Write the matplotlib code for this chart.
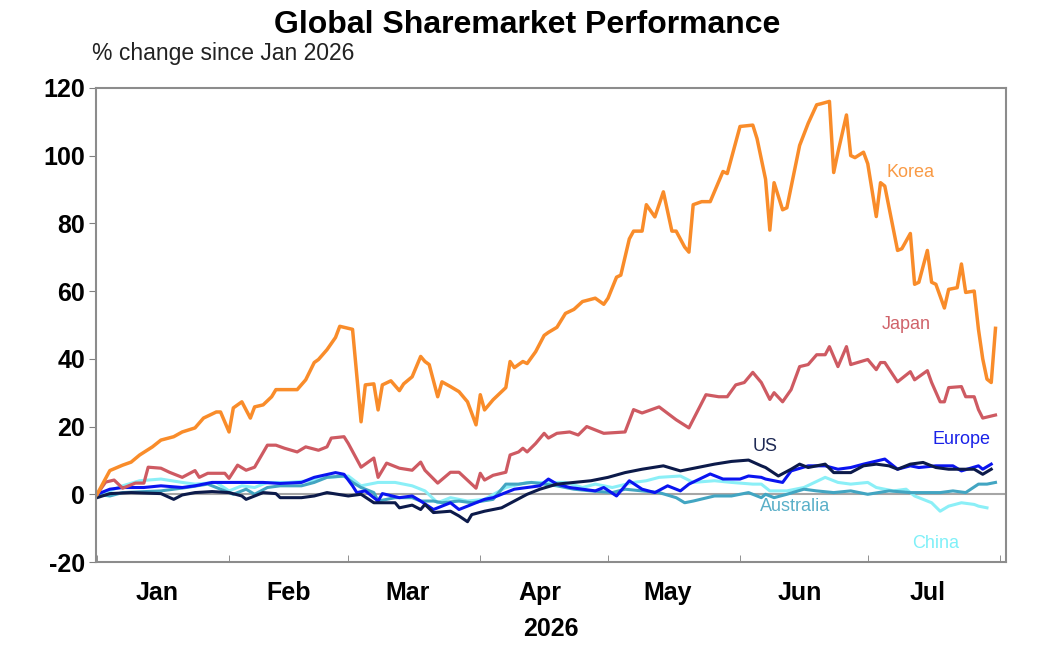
import numpy as np
import matplotlib.pyplot as plt
import matplotlib.dates as mdates

# days since 1 Jan 2026, % change
korea_day = [0, 3, 6, 8, 10, 13, 15, 18, 20, 23, 25, 28, 29, 31, 32, 34, 36, 37, 39, 41,
             42, 47, 49, 51, 52, 54, 56, 57, 60, 62, 63, 65, 66, 67, 69, 71, 72, 74, 76, 77,
             78, 80, 81, 83, 85, 87, 89, 90, 91, 93, 95, 96, 97, 98, 100, 101, 103, 105, 106, 108,
             110, 112, 114, 117, 119, 120, 122, 123, 125, 126, 128, 129, 131, 133, 135, 136, 138, 139, 140, 142,
             144, 147, 148, 151, 154, 155, 157, 158, 159, 161, 162, 165, 167, 169, 170, 172, 173, 174, 176, 177,
             178, 180, 181, 183, 184, 185, 188, 189, 191, 192, 193, 195, 196, 197, 199, 200, 202, 203, 204, 206,
             207, 208, 209, 210, 211]
korea = [0, 7, 8.6, 9.5, 11.6, 14, 16, 17, 18.4, 19.6, 22.5, 24.3, 24.3, 18.4, 25.5, 27.3, 22.5, 25.8, 26.4, 28.8,
         30.9, 30.9, 33.8, 38.9, 39.8, 42.7, 46.3, 49.6, 48.7, 21.4, 32.3, 32.6, 24.9, 32.3, 33.5, 30.6, 32.6, 34.7, 40.7, 39.2,
         38.3, 28.8, 33.2, 31.8, 30.3, 27.3, 20.5, 29.4, 24.9, 27.9, 30.3, 31.5, 39.2, 37.4, 39.2, 38.6, 42.1, 46.9, 47.8, 49.3,
         53.4, 54.6, 56.9, 57.9, 56.1, 57.9, 64.1, 64.7, 75.4, 77.7, 77.7, 85.5, 81.9, 89.3, 77.7, 77.7, 73, 71.5, 85.5, 86.4,
         86.4, 95.3, 94.7, 108.6, 109, 105, 93, 78, 92, 84, 84.6, 103, 109.5, 115, 115.3, 116, 95, 101, 112, 100,
         99.4, 101, 97.6, 82, 92, 91, 72, 72.5, 77, 62, 62.6, 72, 62.6, 62, 55, 60.5, 61, 68, 59.6, 60,
         48.7, 40, 34, 33, 49]

japan_day = [0, 2, 4, 6, 9, 11, 12, 15, 17, 20, 23, 24, 26, 30, 31, 33, 35, 37, 40, 42,
             44, 47, 49, 52, 54, 55, 58, 59, 62, 65, 66, 68, 71, 74, 76, 77, 80, 83, 85, 89,
             90, 91, 93, 96, 97, 99, 100, 101, 103, 105, 106, 108, 111, 113, 115, 117, 119, 124, 126, 128,
             132, 136, 139, 143, 146, 148, 150, 152, 154, 156, 158, 159, 161, 163, 165, 167, 169, 171, 172, 174,
             176, 177, 181, 183, 184, 185, 188, 191, 192, 195, 196, 198, 199, 200, 203, 204, 206, 207, 208, 209, 211]
japan = [0, 3.6, 4.2, 1.8, 3.3, 3.3, 8, 7.7, 6.5, 5, 7, 5, 6.2, 6.2, 4.7, 8.6, 7.1, 8, 14.5, 14.5,
         13.6, 12.5, 14, 13, 14, 16.6, 17, 15, 8, 10.7, 5, 9.2, 7.7, 7.1, 9.5, 7.1, 3.3, 6.5, 6.5, 1.8,
         6.2, 4.2, 5.6, 6.5, 11.6, 12.5, 13.6, 12.5, 15, 18, 16.6, 18, 18.4, 17.5, 20, 19, 18, 18.4, 25, 24,
         25.8, 22, 19.6, 29.4, 28.8, 28.8, 32.3, 33, 36, 33, 28, 30, 27.3, 30.9, 37.7, 38.3, 41.2, 41.2, 43.6, 37.7,
         43.6, 38.3, 39.8, 36.8, 38.9, 38.9, 33.2, 36.2, 33.8, 36.5, 33, 27.3, 27.3, 31.5, 31.8, 28.8, 28.8, 25, 22.5, 22.8, 23.4]

us_day = [0, 3, 8, 15, 18, 20, 23, 27, 31, 34, 35, 39, 42, 43, 48, 51, 54, 59, 62, 65,
          70, 71, 74, 76, 77, 79, 83, 85, 87, 88, 91, 95, 98, 101, 104, 108, 112, 116, 120, 124,
          128, 133, 137, 141, 145, 149, 153, 156, 157, 160, 163, 165, 167, 171, 173, 177, 180, 183, 186, 188,
          191, 194, 197, 200, 206, 208, 210]
us = [-1, 0.2, 0.5, 0.2, -1.5, -0.2, 0.5, 0.8, 0.5, -0.5, -1.5, 0.5, 0.2, -1, -1, -0.5, 0.5, -0.5, 0, -2.5,
      -2.5, -4, -3.2, -4.5, -3, -5.4, -5, -6.4, -8.1, -6, -5, -4, -2, 0, 1.5, 3, 3.5, 4, 5, 6.4,
      7.4, 8.4, 6.9, 7.9, 8.9, 9.7, 10.1, 8.4, 7.9, 5.4, 7.4, 8.9, 7.9, 8.9, 6.4, 6.4, 8.4, 8.9, 8.4, 7.4,
      8.9, 9.4, 7.9, 7.4, 7.4, 5.9, 7.4]

europe_day = [0, 3, 6, 11, 15, 20, 23, 27, 32, 39, 43, 48, 51, 56, 58, 60, 61, 63, 66, 67,
              71, 74, 76, 79, 81, 83, 85, 88, 91, 93, 95, 98, 101, 104, 106, 108, 111, 114, 117, 119,
              122, 125, 128, 131, 134, 137, 139, 144, 147, 151, 153, 156, 157, 161, 163, 167, 171, 174, 177, 180,
              185, 188, 191, 193, 197, 201, 203, 207, 208, 210]
europe = [0, 1.5, 2, 2, 2.5, 2, 2.5, 3.5, 3.5, 3.5, 3.2, 3.5, 5, 6.4, 5.9, 2.5, 0.5, 1, -2, 0.2,
          -1, -0.5, -2, -4.5, -3.5, -2.5, -4.5, -3, -1.5, -1, 0, 1.5, 2, 2.5, 4.5, 3, 2, 1.5, 1, 2,
          -0.5, 4, 1.5, 0.5, 2.5, 1, 3, 6, 4.5, 4.5, 5.4, 5, 4.5, 3.5, 6.9, 8.4, 8.4, 7.4, 7.9, 8.9,
          10.4, 7.4, 8.4, 7.9, 8.4, 8.4, 6.9, 8.4, 7.4, 8.9]

australia_day = [0, 3, 6, 15, 21, 26, 29, 32, 35, 37, 40, 43, 48, 51, 54, 58, 60, 62, 65, 66,
                 70, 74, 76, 79, 81, 85, 88, 93, 96, 99, 102, 108, 112, 116, 121, 124, 128, 132, 136, 138,
                 140, 145, 149, 153, 156, 157, 159, 162, 166, 169, 173, 177, 181, 186, 191, 194, 198, 201, 204, 207,
                 209, 211]
australia = [0, -0.5, 0.5, 1, 2, 3, 1.5, 0, 1.5, 0, 2, 2.5, 2.5, 3.5, 5, 5.4, 3.5, 2, 0.5, -2,
             -1, -1, -2, -2, -2.5, -2, -2.5, -1.5, 3, 3, 3.5, 2.5, 1.5, 1, 0.5, 1.5, 1, 0.5, -1, -2.5,
             -2, -0.5, -0.5, 0.5, -1, 0, -1, 0, 1.5, 1, 0.5, 1, 0, 1, 0.5, 0.5, 0.5, 1, 0.5, 3,
             3, 3.5]

china_day = [0, 3, 6, 10, 15, 20, 23, 28, 31, 34, 37, 40, 45, 50, 54, 59, 62, 66, 70, 74,
             77, 80, 83, 87, 91, 96, 101, 105, 110, 114, 117, 121, 126, 129, 132, 137, 140, 145, 149, 154,
             156, 158, 162, 166, 171, 174, 177, 181, 183, 187, 190, 192, 194, 196, 198, 200, 203, 206, 207, 209]
china = [0, 1, 2.5, 4, 4.5, 3.5, 3, 3.5, 1, 2.5, 2, 3.5, 3.5, 4, 5, 5.4, 2.5, 3.5, 3.5, 2.5,
         1, -2.5, -1, -2, -1.5, 2, 3.5, 3.5, 3.5, 2, 3, 2, 3.5, 4, 5, 5.4, 3.5, 4, 3.5, 3,
         3, 1, 1, 2, 5, 3.5, 3, 3.5, 2, 1, 1.5, -0.5, -1.5, -2.5, -5, -3.5, -2.5, -3, -3.5, -4]

start = np.datetime64('2026-01-01')


def to_dates(days):
    return start + np.array(days).astype('timedelta64[D]')


series = [
    ('China', china_day, china, '#8BEFF7', 2.2),
    ('Australia', australia_day, australia, '#42A5C2', 2.2),
    ('Europe', europe_day, europe, '#0A14F0', 2.2),
    ('US', us_day, us, '#0C1A4A', 2.2),
    ('Japan', japan_day, japan, '#CE5A62', 2.3),
    ('Korea', korea_day, korea, '#F98C2A', 2.5),
]

# label text: day, value, colour
labels = {
    'Korea': (191, 95, '#F99A45'),
    'Japan': (190, 50, '#D0636A'),
    'US': (157, 14, '#1F2A55'),
    'Europe': (203, 16.3, '#1A22E8'),
    'Australia': (164, -3.6, '#5AAFC8'),
    'China': (197, -14.5, '#7FF0F8'),
}

plt.rcParams['font.family'] = ['Liberation Sans', 'DejaVu Sans']
plt.rcParams['axes.unicode_minus'] = False

fig = plt.figure(figsize=(10.62, 6.46), dpi=100)
ax = fig.add_axes([0.0904, 0.130, 0.857, 0.734])

ax.axhline(0, color='#A6A6A6', lw=1.5, zorder=1)
for name, d, v, c, lw in series:
    ax.plot(to_dates(d), v, color=c, lw=lw, zorder=2)

for name, (d, v, c) in labels.items():
    ax.text(to_dates([d])[0], v, name, color=c, fontsize=13, ha='center', va='center')

ax.set_ylim(-20, 120)
ax.set_yticks(np.arange(-20, 121, 20))
ax.set_xlim(np.datetime64('2025-12-31T18:00'), np.datetime64('2026-08-02T12:00'))

ax.xaxis.set_major_locator(mdates.MonthLocator(bymonthday=15))
ax.xaxis.set_major_formatter(mdates.DateFormatter('%b'))
ax.xaxis.set_minor_locator(mdates.MonthLocator(bymonthday=1))
ax.tick_params(axis='x', which='major', length=0, pad=14, labelsize=18)
ax.tick_params(axis='x', which='minor', direction='in', length=5, color='#808080')
ax.tick_params(axis='y', direction='out', length=5, color='#808080', labelsize=18, pad=3)
for lab in ax.get_xticklabels() + ax.get_yticklabels():
    lab.set_fontweight('bold')

ax.set_xlabel('2026', fontsize=18, fontweight='bold', labelpad=8)

for s in ax.spines.values():
    s.set_color('#8C8C8C')
    s.set_linewidth(1.5)

fig.text(0.496, 0.962, 'Global Sharemarket Performance', ha='center', va='center',
         fontsize=23, fontweight='bold')
fig.text(0.087, 0.917, '% change since Jan 2026', ha='left', va='center',
         fontsize=16.5, color='#222222')

fig.savefig('out.png', dpi=100)
